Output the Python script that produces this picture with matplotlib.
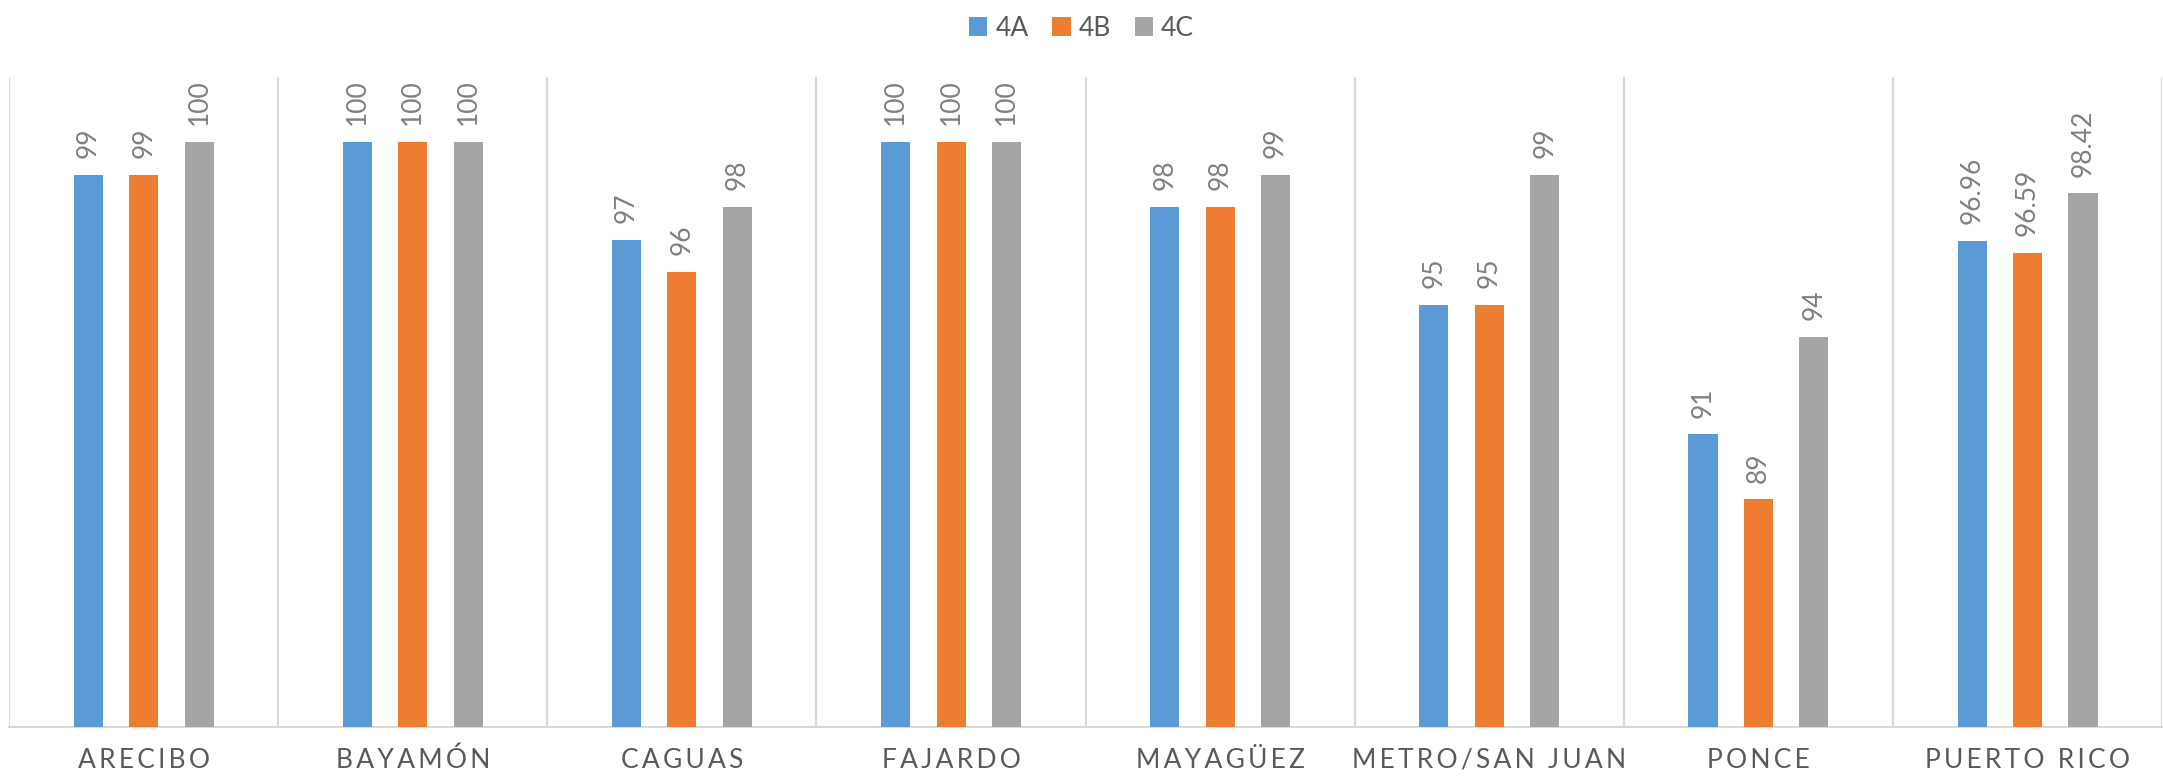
import numpy as np
import matplotlib.pyplot as plt

plt.rcParams['font.family'] = ['Lato', 'DejaVu Sans']

# Data
regions = ['ARECIBO', 'BAYAMÓN', 'CAGUAS', 'FAJARDO', 'MAYAGÜEZ',
           'METRO/SAN JUAN', 'PONCE', 'PUERTO RICO']
series_names = ['4A', '4B', '4C']
vals_4a = [99, 100, 97, 100, 98, 95, 91, 96.96]
vals_4b = [99, 100, 96, 100, 98, 95, 89, 96.59]
vals_4c = [100, 100, 98, 100, 99, 99, 94, 98.42]
label_4a = ['99', '100', '97', '100', '98', '95', '91', '96.96']
label_4b = ['99', '100', '96', '100', '98', '95', '89', '96.59']
label_4c = ['100', '100', '98', '100', '99', '99', '94', '98.42']

colors = ['#5b9bd5', '#ed7d31', '#a5a5a5']
grid_col = '#d9d9d9'

fig = plt.figure(figsize=(21.63, 7.79), dpi=100)
ax = fig.add_axes([0.0042, 0.067, 0.9954, 0.834])

x = np.arange(len(regions))
offsets = [-0.206, 0, 0.206]
width = 0.108
ymin, ymax = 82, 102

all_vals = [vals_4a, vals_4b, vals_4c]
all_labels = [label_4a, label_4b, label_4c]
for vals, labs, off, col, name in zip(all_vals, all_labels, offsets, colors, series_names):
    ax.bar(x + off, np.array(vals) - ymin, width, bottom=ymin, color=col, label=name, zorder=3)
    for xi, v, t in zip(x, vals, labs):
        ax.annotate(t, (xi + off, v), xytext=(0, 12), textcoords='offset points',
                    rotation=90, ha='center', va='bottom', fontsize=19, color='#7f7f7f')

# category separators
for b in np.arange(-0.5, len(regions) + 0.5, 1):
    ax.axvline(b, color=grid_col, lw=1.5, zorder=1)

ax.set_xlim(-0.5, len(regions) - 0.5)
ax.set_ylim(ymin, ymax)
ax.set_yticks([])
ax.set_xticks(x)
spaced = ['\u2009'.join(r) for r in regions]
ax.set_xticklabels(spaced, fontsize=19, color='#595959')
ax.tick_params(axis='x', length=0, pad=15)
for s in ['top', 'left', 'right']:
    ax.spines[s].set_visible(False)
ax.spines['bottom'].set_color(grid_col)
ax.spines['bottom'].set_linewidth(1.5)

fig.legend(loc='upper center', bbox_to_anchor=(0.5, 1.01), ncol=3, frameon=False,
           fontsize=19, labelcolor='#595959', handlelength=0.7, handleheight=0.7,
           handletextpad=0.3, columnspacing=0.9)

fig.savefig('out.png', dpi=100)
